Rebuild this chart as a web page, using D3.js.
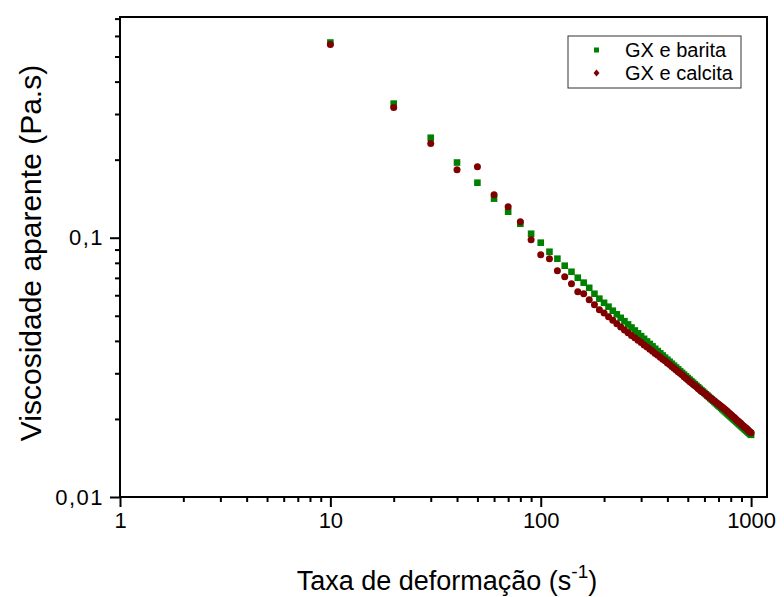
<!DOCTYPE html>
<html>
<head>
<meta charset="utf-8">
<script src="https://cdn.jsdelivr.net/npm/d3@7"></script>
<style>
  html, body { margin: 0; padding: 0; background: #fff; }
  svg { display: block; font-family: "Liberation Sans", Arial, sans-serif; }
</style>
</head>
<body>
<svg id="chart" width="784" height="597"></svg>
<script>
// Shear rate (s^-1)
const shearRate = [10,20,30,40,50,60,70,80,90,100,110,120,130,140,150,160,170,180,190,200,
  210,220,230,240,250,260,270,280,290,300,310,320,330,340,350,360,370,380,390,400,
  410,420,430,440,450,460,470,480,490,500,510,520,530,540,550,560,570,580,590,600,
  610,620,630,640,650,660,670,680,690,700,710,720,730,740,750,760,770,780,790,800,
  810,820,830,840,850,860,870,880,890,900,910,920,930,940,950,960,970,980,990,1000];

// Apparent viscosity (Pa.s) - GX e barita
const barita = [0.566,0.329,0.243,0.195,0.163,0.1415,0.126,0.1132,0.1036,0.0957,
  0.0883,0.0830,0.0780,0.0739,0.0701,0.0671,0.0641,0.0608,0.0582,0.0561,
  0.0542,0.0523,0.05064,0.04909,0.04765,0.04631,0.04505,0.04387,0.04277,0.04173,
  0.04074,0.03981,0.03893,0.03810,0.03730,0.03654,0.03582,0.03513,0.03447,0.03384,
  0.03324,0.03266,0.03211,0.03158,0.03107,0.03057,0.03010,0.02964,0.02920,0.02877,
  0.02836,0.02797,0.02758,0.02721,0.02685,0.02650,0.02616,0.02582,0.02551,0.02520,
  0.02490,0.02460,0.02432,0.02404,0.02377,0.02351,0.02325,0.02300,0.02276,0.02252,
  0.02229,0.02206,0.02184,0.02163,0.02141,0.02121,0.02101,0.02082,0.02062,0.02043,
  0.02025,0.02007,0.01989,0.01972,0.01955,0.01939,0.01922,0.01906,0.01891,0.01875,
  0.01860,0.01846,0.01831,0.01817,0.01803,0.01789,0.01776,0.01763,0.01750,0.01737];

// Apparent viscosity (Pa.s) - GX e calcita
const calcita = [0.556,0.318,0.231,0.183,0.188,0.1466,0.1317,0.1153,0.0982,0.0860,
  0.0830,0.0746,0.0707,0.0664,0.0619,0.0608,0.0576,0.0551,0.0527,0.0513,
  0.0496,0.0480,0.0466,0.0453,0.0441,0.0430,0.0420,0.0411,0.0402,0.0394,
  0.0386,0.0379,0.0371,0.0365,0.0358,0.0352,0.0346,0.0340,0.0335,0.0329,
  0.0324,0.0319,0.0314,0.0309,0.0304,0.0300,0.0296,0.0291,0.0287,0.0283,
  0.0279,0.0276,0.0272,0.0269,0.0266,0.0262,0.0259,0.0256,0.0254,0.0251,
  0.0249,0.0246,0.0243,0.0241,0.0238,0.0236,0.0234,0.0232,0.0230,0.0228,
  0.0226,0.0224,0.0222,0.0220,0.0218,0.0216,0.0214,0.0212,0.0210,0.0208,
  0.0206,0.0204,0.0203,0.0201,0.0199,0.0197,0.0196,0.0194,0.0193,0.0191,
  0.0189,0.0188,0.0186,0.0185,0.0184,0.0182,0.0181,0.0179,0.0178,0.0177];

const xMajorTicks = [1, 10, 100, 1000];
const xTickLabels = ["1", "10", "100", "1000"];
const yMajorTicks = [0.01, 0.1];
const yTickLabels = ["0,01", "0,1"];
const seriesNames = ["GX e barita", "GX e calcita"];
const seriesColors = ["#008000", "#800000"];

const svg = d3.select("#chart");
const mLeft = 120, mRight = 767, mTop = 17, mBottom = 497;

const x = d3.scaleLog().domain([1, 1190]).range([mLeft, mRight]);
const y = d3.scaleLog().domain([0.01, 0.71]).range([mBottom, mTop]);

// minor ticks
const xMinor = [];
for (let d = 1; d <= 100; d *= 10) for (let k = 2; k <= 9; k++) xMinor.push(k * d);
const yMinor = [];
for (let d = 0.01; d <= 0.1 + 1e-9; d *= 10) for (let k = 2; k <= 9; k++) { const v = +(k * d).toFixed(4); if (v < 0.71) yMinor.push(v); }

// X axis
const xAxisMajor = d3.axisBottom(x).tickValues(xMajorTicks).tickSize(10).tickPadding(5)
  .tickFormat((d, i) => xTickLabels[i]);
const gx = svg.append("g").attr("transform", `translate(0,${mBottom})`).call(xAxisMajor);
const gxm = svg.append("g").attr("transform", `translate(0,${mBottom})`)
  .call(d3.axisBottom(x).tickValues(xMinor).tickSize(5).tickFormat(""));

// Y axis
const yAxisMajor = d3.axisLeft(y).tickValues(yMajorTicks).tickSize(10).tickPadding(6)
  .tickFormat((d, i) => yTickLabels[i]);
const gy = svg.append("g").attr("transform", `translate(${mLeft},0)`).call(yAxisMajor);
const gym = svg.append("g").attr("transform", `translate(${mLeft},0)`)
  .call(d3.axisLeft(y).tickValues(yMinor).tickSize(5).tickFormat(""));

[gx, gxm, gy, gym].forEach(g => {
  g.select(".domain").remove();
  g.selectAll(".tick line").attr("stroke", "#000").attr("stroke-width", 2);
  g.selectAll(".tick text").attr("fill", "#000").attr("font-size", 22)
    .attr("font-family", "'Liberation Sans', Arial, sans-serif");
});
gy.selectAll(".tick text").attr("letter-spacing", 1.5);

// frame
svg.append("rect").attr("x", mLeft).attr("y", mTop).attr("width", mRight - mLeft).attr("height", mBottom - mTop)
  .attr("fill", "none").attr("stroke", "#000").attr("stroke-width", 2);

// data
const plot = svg.append("g");
plot.selectAll("rect.b").data(shearRate).join("rect").attr("class", "b")
  .attr("x", (d) => x(d) - 3.3).attr("y", (d, i) => y(barita[i]) - 3.3)
  .attr("width", 6.6).attr("height", 6.6).attr("fill", seriesColors[0]);
plot.selectAll("circle.c").data(shearRate).join("circle").attr("class", "c")
  .attr("cx", (d) => x(d)).attr("cy", (d, i) => y(calcita[i]))
  .attr("r", 3.5).attr("fill", seriesColors[1]);

// legend
const lg = svg.append("g");
lg.append("rect").attr("x", 568).attr("y", 36).attr("width", 173).attr("height", 52)
  .attr("fill", "#fff").attr("stroke", "#333").attr("stroke-width", 1);
lg.append("rect").attr("x", 594).attr("y", 47.5).attr("width", 5).attr("height", 5).attr("fill", seriesColors[0]);
lg.append("path").attr("d", "M596.5,69.5 L599.5,73 L596.5,76.5 L593.5,73 Z").attr("fill", seriesColors[1]);
lg.selectAll("text").data(seriesNames).join("text")
  .attr("x", 625).attr("y", (d, i) => 57 + i * 23)
  .attr("font-size", 20).attr("fill", "#000").text(d => d);

// axis titles
const xt = svg.append("text").attr("x", 447).attr("y", 590).attr("text-anchor", "middle")
  .attr("font-size", 27).attr("fill", "#000");
xt.append("tspan").text("Taxa de deformação (s");
xt.append("tspan").attr("font-size", 19).attr("dy", -12).text("-1");
xt.append("tspan").attr("dy", 12).text(")");

svg.append("text").attr("transform", "translate(41,253) rotate(-90)").attr("text-anchor", "middle")
  .attr("font-size", 30).attr("fill", "#000").text("Viscosidade aparente (Pa.s)");
</script>
</body>
</html>
